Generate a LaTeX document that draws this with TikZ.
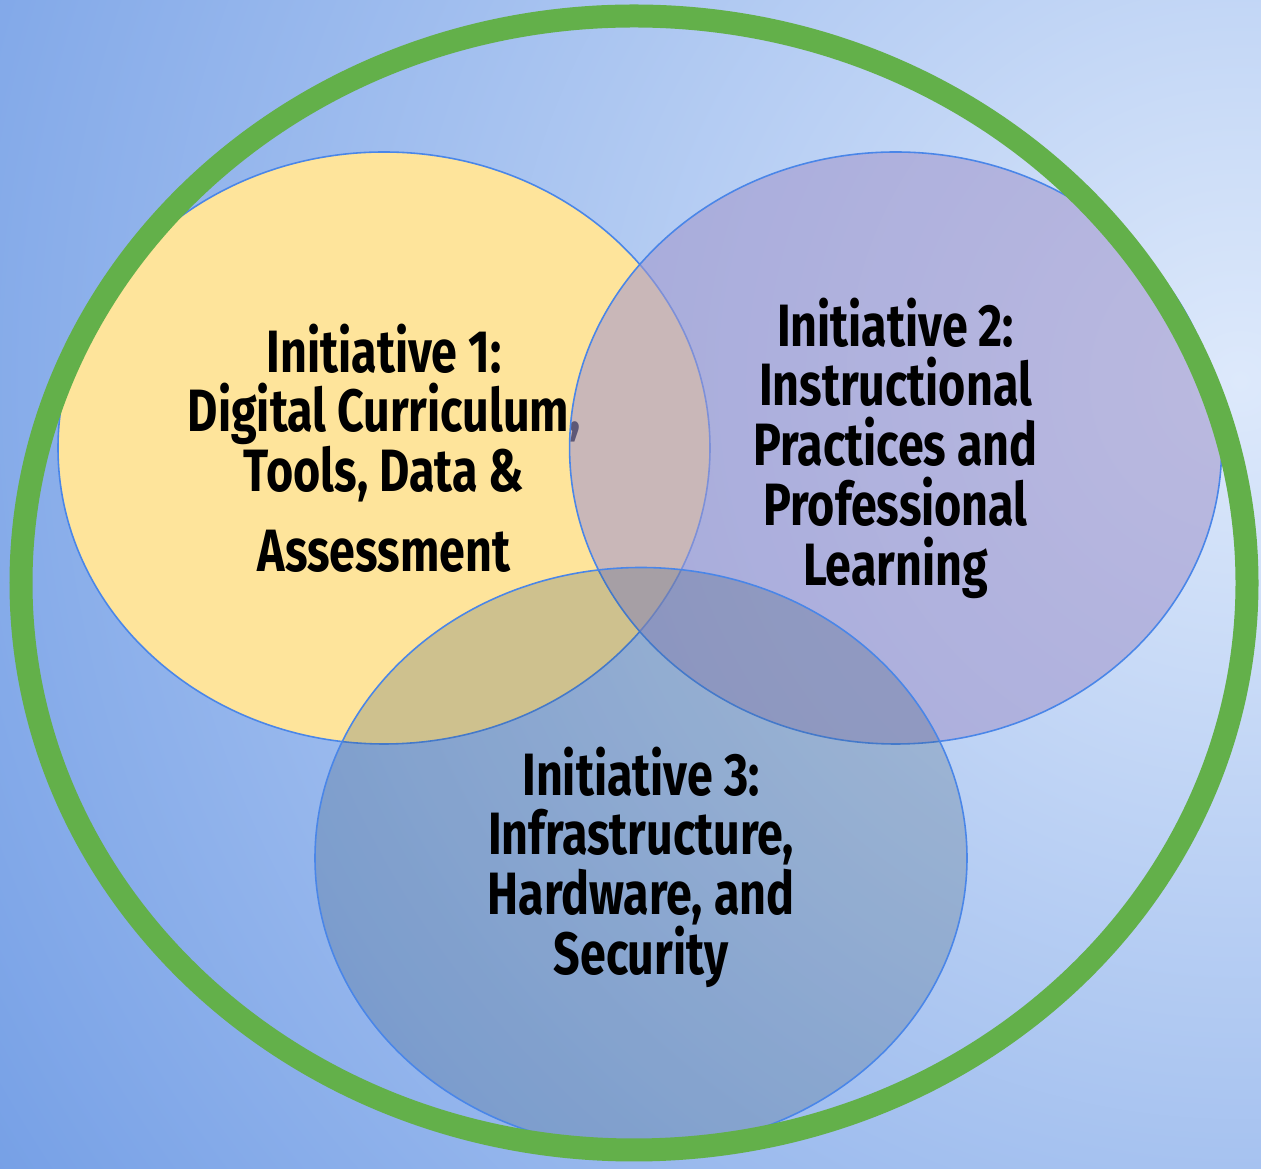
\documentclass[tikz,border=0pt]{standalone}
\usepackage{fontspec}
\newfontfamily\vennfont{Fira Sans}[FakeStretch=0.78]
\usepackage{tikz}
\usetikzlibrary{shapes.geometric,positioning,backgrounds}
\definecolor{bglight}{HTML}{DDE9FB}
\definecolor{bgdark}{HTML}{76A0E6}
\definecolor{ringgreen}{HTML}{63B04A}
\definecolor{rimblue}{HTML}{4A86E8}
\definecolor{initone}{HTML}{FEE49B}
\definecolor{inittwo}{HTML}{A398CD}
\definecolor{initthree}{HTML}{325067}
\tikzstyle{every picture}+=[font=\vennfont\bfseries]

\begin{document}
\begin{tikzpicture}
			[inner sep=0pt,
			initiative/.style	= {draw=rimblue, ellipse, line width=0.9pt, minimum width=13.04cm, minimum height=11.84cm,
								   align=center, font=\vennfont\bfseries\fontsize{34pt}{34pt}\selectfont},
			ring/.style			= {draw=ringgreen, line width=0.46cm}]
			
			% background
			\useasboundingbox (0,0) rectangle (25.22,23.38);
			\begin{scope}
			\clip (0,0) rectangle (25.22,23.38);
			\shade [inner color=bglight, outer color=bgdark] (24.8,15.76) circle (29.5cm);
			\end{scope}
			
			\node [initiative, fill=initone]	at (7.68,14.42)				(1)	{Initiative 1:\\ Digital Curriculum,\\ Tools, Data \&\\[0.4cm] Assessment};
			\node [initiative, fill=inittwo, fill opacity=0.58, text opacity=1]
												[right = -2.84cm of 1]		(2)	{Initiative 2:\\ Instructional\\ Practices and\\ Professional\\ Learning};
			\node [initiative, fill=initthree, fill opacity=0.23, text opacity=1, minimum height=11.62cm]
												at (12.82,6.22)				(3)	{\\[0.14cm]Initiative 3:\\ Infrastructure,\\ Hardware, and\\ Security};
			
			\node [ring, ellipse, minimum width=24.52cm, minimum height=22.68cm] at (12.68,11.72) (4) {};
			\end{tikzpicture}
\end{document}
